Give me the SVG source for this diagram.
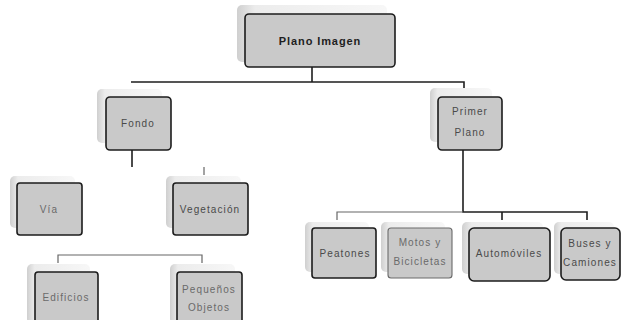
<svg xmlns="http://www.w3.org/2000/svg" width="621" height="320" viewBox="0 0 621 320">
  <defs>
    <linearGradient id="cardShade" x1="0" y1="0" x2="1" y2="0">
      <stop offset="0" stop-color="#cfcfcf"/>
      <stop offset="0.12" stop-color="#ececec"/>
      <stop offset="1" stop-color="#f7f7f7"/>
    </linearGradient>
    <filter id="soft" x="-10%" y="-10%" width="120%" height="120%">
      <feGaussianBlur stdDeviation="0.6"/>
    </filter>
  </defs>
  <style>
    .back { fill: url(#cardShade); filter: url(#soft); }
    .card { fill: #c9c9c9; stroke: #1c1c1c; stroke-width: 1.6; }
    .card.light { stroke: #6a6a6a; stroke-width: 1.1; }
    .label { font-family: "Liberation Sans", Arial, sans-serif; font-size: 10px; letter-spacing: 1.1px; fill: #4a4a4a; text-anchor: middle; }
    .label.dark { fill: #1e1e1e; font-size: 11px; font-weight: bold; letter-spacing: 0.9px; }
    .label.pale { fill: #6a6a6a; }
    .wire { fill: none; stroke: #1e1e1e; stroke-width: 1.6; }
    .wire.thin { stroke: #666; stroke-width: 1.2; }
  </style>

  <rect width="621" height="320" fill="#ffffff"/>

  <!-- connectors -->
  <g id="connectors">
    <path class="wire" d="M312,67 V82 M131,82 H464 V88"/>
    <path class="wire" d="M132,150 V167"/>
    <path class="wire thin" d="M204,167 V175"/>
    <path class="wire thin" d="M58,263 V255 H202 V263"/>
    <path class="wire" d="M463,150 V212 H587 V220 M502,212 V220"/>
    <path class="wire thin" d="M463,212 H337 V220"/>
  </g>

  <g id="plano-imagen">
    <rect class="back" x="237" y="5" width="150" height="57" rx="5"/>
    <rect class="card" x="245" y="14" width="150" height="53" rx="4"/>
    <text class="label dark" x="320" y="45">Plano Imagen</text>
  </g>

  <g id="fondo">
    <rect class="back" x="97" y="89" width="65" height="54" rx="5"/>
    <rect class="card" x="106" y="97" width="65" height="53" rx="4"/>
    <text class="label" x="138" y="127">Fondo</text>
  </g>

  <g id="primer-plano">
    <rect class="back" x="430" y="88" width="62" height="54" rx="5"/>
    <rect class="card" x="438" y="97" width="64" height="53" rx="4"/>
    <text class="label" x="470" y="115">Primer</text>
    <text class="label" x="470" y="136">Plano</text>
  </g>

  <g id="via">
    <rect class="back" x="10" y="176" width="65" height="52" rx="5"/>
    <rect class="card" x="17" y="183" width="65" height="52" rx="3"/>
    <text class="label pale" x="49" y="213">Vía</text>
  </g>

  <g id="vegetacion">
    <rect class="back" x="166" y="176" width="75" height="52" rx="5"/>
    <rect class="card" x="173" y="183" width="75" height="52" rx="3"/>
    <text class="label" x="210" y="213">Vegetación</text>
  </g>

  <g id="edificios">
    <rect class="back" x="27" y="264" width="63" height="60" rx="5"/>
    <rect class="card" x="35" y="272" width="63" height="56" rx="3"/>
    <text class="label pale" x="66" y="301">Edificios</text>
  </g>

  <g id="pequenos-objetos">
    <rect class="back" x="170" y="264" width="65" height="60" rx="5"/>
    <rect class="card" x="177" y="272" width="65" height="56" rx="3"/>
    <text class="label pale" x="209" y="293">Pequeños</text>
    <text class="label pale" x="209" y="311">Objetos</text>
  </g>

  <g id="peatones">
    <rect class="back" x="305" y="222" width="64" height="50" rx="5"/>
    <rect class="card" x="312" y="228" width="64" height="50" rx="3"/>
    <text class="label" x="345" y="257">Peatones</text>
  </g>

  <g id="motos-bicicletas">
    <rect class="back" x="381" y="222" width="64" height="50" rx="5"/>
    <rect class="card light" x="388" y="228" width="64" height="50" rx="3"/>
    <text class="label pale" x="420" y="246">Motos y</text>
    <text class="label pale" x="420" y="265">Bicicletas</text>
  </g>

  <g id="automoviles">
    <rect class="back" x="462" y="222" width="81" height="52" rx="5"/>
    <rect class="card" x="469" y="228" width="81" height="53" rx="5"/>
    <text class="label" x="509" y="257">Automóviles</text>
  </g>

  <g id="buses-camiones">
    <rect class="back" x="554" y="222" width="60" height="52" rx="5"/>
    <rect class="card" x="561" y="228" width="59" height="52" rx="5"/>
    <text class="label" x="590" y="247">Buses y</text>
    <text class="label" x="590" y="266">Camiones</text>
  </g>
</svg>
